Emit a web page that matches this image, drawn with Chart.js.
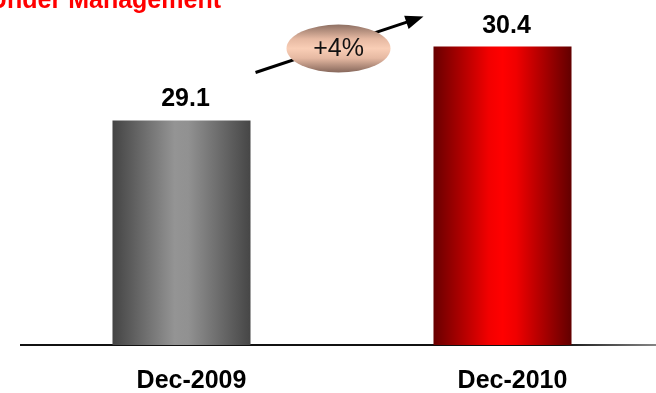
<!DOCTYPE html>
<html>
<head>
<meta charset="utf-8">
<script src="https://cdn.jsdelivr.net/npm/chart.js@4/dist/chart.umd.min.js"></script>
<style>
  html, body { margin: 0; padding: 0; background: #fff; overflow: hidden; }
  #wrap { position: relative; width: 663px; height: 393px; }
</style>
</head>
<body>
<div id="wrap"><canvas id="c" width="663" height="393"></canvas></div>
<script>
// Assets under management, year-end totals
const periods = ['Dec-2009', 'Dec-2010'];
const assets = [29.1, 30.4];
const titleText = 'Assets Under Management';

const FONT = '"Liberation Sans", Arial, Helvetica, sans-serif';
const BAR_PCT = 0.43;

// horizontal shading for each bar: dark edges, light centre
const barStops = [
  [[0, '#444444'], [0.45, '#949494'], [0.55, '#919191'], [1, '#464646']],
  [[0, '#680000'], [0.4, '#f20000'], [0.5, '#ff0000'], [0.6, '#f00000'], [1, '#620000']]
];
const fallback = ['#777777', '#dd0000'];

function barFill(ctx) {
  const chart = ctx.chart;
  const xs = chart.scales && chart.scales.x;
  if (!chart.chartArea || !xs) return fallback[ctx.dataIndex];
  const cx = xs.getPixelForValue(ctx.dataIndex);
  const half = xs.width / periods.length * BAR_PCT / 2;
  const g = chart.ctx.createLinearGradient(cx - half, 0, cx + half, 0);
  barStops[ctx.dataIndex].forEach(([o, c]) => g.addColorStop(o, c));
  return g;
}

// axis line fades toward the right end
const cv = document.getElementById('c');
const axisGrad = cv.getContext('2d').createLinearGradient(560, 0, 660, 0);
axisGrad.addColorStop(0, '#111111');
axisGrad.addColorStop(1, '#8a8a8a');

// title, value labels and growth arrow
const decorations = {
  id: 'decorations',
  afterDatasetsDraw(chart) {
    const c = chart.ctx;
    const bars = chart.getDatasetMeta(0).data;
    c.save();

    // title, partly running off the left edge
    c.font = 'bold 25px ' + FONT;
    c.fillStyle = '#ff0000';
    c.textAlign = 'right';
    c.textBaseline = 'alphabetic';
    c.fillText(titleText, 221, 8);

    // values above bars
    c.font = 'bold 25px ' + FONT;
    c.fillStyle = '#000';
    c.textAlign = 'center';
    bars.forEach((b, i) => c.fillText(assets[i].toFixed(1), b.x + 4, b.y - 14));

    // growth arrow
    const b0 = bars[0], b1 = bars[1];
    const x0 = b0.x + b0.width / 2 + 5, y0 = b0.y - 48;
    const x1 = b1.x - b1.width / 2 - 10, y1 = b1.y - 30;
    const ang = Math.atan2(y1 - y0, x1 - x0);
    c.strokeStyle = '#000';
    c.lineWidth = 3;
    c.beginPath();
    c.moveTo(x0, y0);
    c.lineTo(x1 - 12 * Math.cos(ang), y1 - 12 * Math.sin(ang));
    c.stroke();
    c.fillStyle = '#000';
    c.beginPath();
    c.moveTo(x1, y1);
    c.lineTo(x1 - 18 * Math.cos(ang) + 7 * Math.sin(ang), y1 - 18 * Math.sin(ang) - 7 * Math.cos(ang));
    c.lineTo(x1 - 18 * Math.cos(ang) - 7 * Math.sin(ang), y1 - 18 * Math.sin(ang) + 7 * Math.cos(ang));
    c.closePath();
    c.fill();

    // growth badge
    const ex = (x0 + x1) / 2 - 1, ey = (y0 + y1) / 2 + 4;
    const rx = 52, ry = 24;
    const eg = c.createLinearGradient(0, ey - ry, 0, ey + ry);
    eg.addColorStop(0, '#8e7063');
    eg.addColorStop(0.3, '#e6b9a2');
    eg.addColorStop(0.5, '#f9ceb6');
    eg.addColorStop(0.7, '#e6b9a2');
    eg.addColorStop(1, '#86675b');
    c.fillStyle = eg;
    c.beginPath();
    c.ellipse(ex, ey, rx, ry, 0, 0, Math.PI * 2);
    c.fill();

    const growth = Math.round((assets[1] - assets[0]) / assets[0] * 100);
    c.font = '25px ' + FONT;
    c.fillStyle = '#111';
    c.textAlign = 'center';
    c.textBaseline = 'middle';
    c.fillText('+' + growth + '%', ex, ey + 1);
    c.restore();
  }
};

new Chart(cv, {
  type: 'bar',
  data: {
    labels: periods,
    datasets: [{
      data: assets,
      backgroundColor: barFill,
      borderWidth: 0,
      barPercentage: BAR_PCT,
      categoryPercentage: 1
    }]
  },
  options: {
    responsive: false,
    devicePixelRatio: 1,
    animation: false,
    events: [],
    layout: { padding: { left: 21, right: 0, top: 0, bottom: 0 } },
    plugins: { legend: { display: false }, title: { display: false }, tooltip: { enabled: false } },
    scales: {
      x: {
        grid: { display: false, drawTicks: false },
        border: { display: true, color: axisGrad, width: 2 },
        ticks: {
          color: '#000',
          font: { family: FONT, size: 25, weight: 'bold' },
          padding: 21,
          labelOffset: 10
        },
        afterFit(scale) { scale.height = 48; }
      },
      y: {
        display: false,
        min: 25.15,
        max: 31.22
      }
    }
  },
  plugins: [decorations]
});
</script>
</body>
</html>
